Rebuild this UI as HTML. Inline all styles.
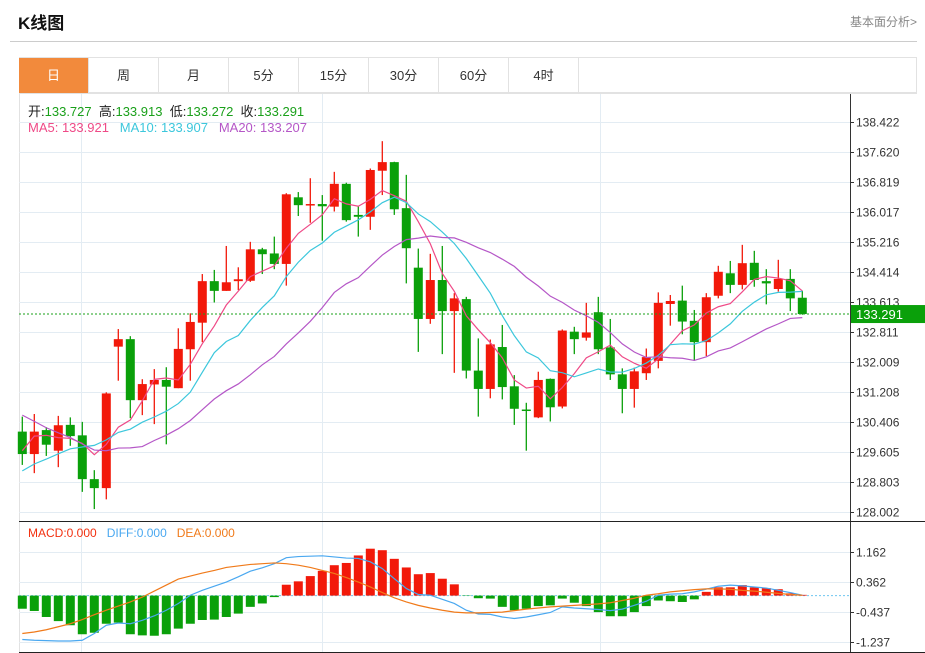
<!DOCTYPE html>
<html><head><meta charset="utf-8"><style>
body{margin:0;background:#fff;width:925px;height:653px;overflow:hidden;font-family:"Liberation Sans","Noto Sans CJK SC",sans-serif;position:relative}
.t{position:absolute;white-space:nowrap}
.tab{position:absolute;top:58px;height:35px;width:70px;line-height:35px;text-align:center;font-size:13px;color:#333;border-right:1px solid #e2e2e2;box-sizing:border-box}
</style></head><body>
<div class="t" style="left:18px;top:9px;font-size:17px;font-weight:bold;color:#111">K线图</div>
<div class="t" style="left:850px;top:13px;font-size:12px;color:#888">基本面分析&gt;</div>
<div style="position:absolute;left:10px;top:41px;width:907px;height:1px;background:#ccc"></div>
<div style="position:absolute;left:19px;top:57px;width:898px;height:36px;border:1px solid #e2e2e2;box-sizing:border-box"></div>
<div class="tab" style="left:19px;background:#f28a3c;color:#fff">日</div>
<div class="tab" style="left:89px">周</div>
<div class="tab" style="left:159px">月</div>
<div class="tab" style="left:229px">5分</div>
<div class="tab" style="left:299px">15分</div>
<div class="tab" style="left:369px">30分</div>
<div class="tab" style="left:439px">60分</div>
<div class="tab" style="left:509px">4时</div>
<svg id="chart" width="925" height="653" style="position:absolute;left:0;top:0;font-family:'Liberation Sans','Noto Sans CJK SC',sans-serif"></svg>
<script>
const opens=[130.15,129.55,130.19,129.64,130.33,130.05,128.88,128.64,132.42,132.62,130.99,131.41,131.53,131.31,132.35,133.06,134.17,133.91,134.17,134.18,135.02,134.91,134.63,136.41,136.21,136.23,136.16,136.77,135.94,135.89,137.12,137.35,136.12,134.53,133.16,134.20,133.37,133.69,131.78,131.29,132.41,131.36,130.74,130.53,131.56,130.82,132.82,132.66,133.34,132.40,131.68,131.29,131.71,132.04,133.56,133.65,133.11,132.54,133.78,134.38,134.07,134.66,134.17,133.96,134.23,133.727];
const closes=[129.55,130.15,129.80,130.32,130.03,128.88,128.64,131.17,132.62,130.99,131.42,131.53,131.35,132.36,133.08,134.17,133.91,134.14,134.22,135.02,134.89,134.63,136.49,136.20,136.23,136.17,136.77,135.80,135.89,137.14,137.35,136.09,135.05,133.16,134.20,133.37,133.71,131.78,131.29,132.48,131.34,130.76,130.70,131.53,130.80,132.85,132.62,132.80,132.35,131.68,131.29,131.76,132.14,133.59,133.64,133.09,132.54,133.74,134.42,134.07,134.65,134.20,134.11,134.23,133.71,133.291];
const highs=[130.55,130.62,130.27,130.57,130.53,130.41,129.12,131.20,132.89,132.70,131.55,131.82,131.87,132.91,133.31,134.36,134.47,135.11,134.54,135.22,135.06,135.36,136.52,136.55,136.92,136.47,137.09,136.80,136.18,137.18,137.91,137.36,137.01,135.04,134.90,135.11,133.85,133.75,132.64,132.61,133.00,131.66,130.92,131.75,131.57,132.88,132.95,133.59,133.75,133.16,131.84,131.86,132.37,133.87,133.80,134.05,133.40,133.85,134.58,134.71,135.14,134.98,134.49,134.74,134.49,133.913];
const lows=[129.26,129.04,129.50,129.20,129.77,128.54,128.08,128.34,131.51,130.51,130.59,130.35,129.81,131.31,131.51,132.54,133.60,133.91,133.93,134.15,134.36,134.49,134.05,135.91,135.73,135.25,136.03,135.76,135.36,135.54,136.47,135.94,134.11,132.28,133.03,132.22,131.72,131.57,130.55,131.04,131.01,130.33,129.64,130.51,130.42,130.77,132.22,132.58,132.22,131.53,130.64,130.79,131.53,131.84,132.98,132.75,132.04,132.17,133.71,133.85,133.95,134.02,133.55,133.89,133.37,133.272];
const priorCloses=[133.5,133.2,133.0,132.6,132.3,131.9,131.5,131.2,130.9,130.7,128.3,128.5,128.9,128.7,128.4,128.2,129.7,130.62,130.13];
const priceTicks=["138.422","137.620","136.819","136.017","135.216","134.414","133.613","132.811","132.009","131.208","130.406","129.605","128.803","128.002"];
const macdHist=[-0.35,-0.41,-0.57,-0.68,-0.79,-1.03,-0.99,-0.75,-0.72,-1.03,-1.06,-1.07,-1.03,-0.88,-0.75,-0.65,-0.64,-0.57,-0.48,-0.30,-0.21,-0.04,0.29,0.38,0.52,0.66,0.81,0.87,1.07,1.25,1.21,0.98,0.75,0.57,0.60,0.45,0.30,-0.01,-0.07,-0.08,-0.30,-0.39,-0.35,-0.28,-0.26,-0.08,-0.19,-0.28,-0.44,-0.55,-0.55,-0.44,-0.28,-0.13,-0.15,-0.17,-0.10,0.10,0.22,0.22,0.28,0.22,0.20,0.17,0.06,0.02];
const diffVals=[-1.17,-1.19,-1.20,-1.21,-1.21,-1.19,-1.01,-0.79,-0.73,-0.75,-0.66,-0.54,-0.39,-0.21,0.01,0.14,0.25,0.36,0.50,0.65,0.74,0.85,1.01,1.04,1.05,1.06,1.03,1.00,0.99,0.90,0.72,0.45,0.19,0.03,0.01,-0.10,-0.21,-0.39,-0.49,-0.50,-0.57,-0.61,-0.57,-0.51,-0.45,-0.30,-0.33,-0.35,-0.37,-0.40,-0.36,-0.26,-0.15,0.01,0.04,0.05,0.10,0.17,0.25,0.28,0.26,0.23,0.20,0.14,0.08,0.01];
const deaVals=[-1.01,-0.97,-0.91,-0.83,-0.75,-0.64,-0.51,-0.39,-0.28,-0.17,-0.04,0.12,0.28,0.44,0.52,0.60,0.67,0.75,0.79,0.83,0.85,0.87,0.85,0.81,0.75,0.67,0.59,0.48,0.36,0.23,0.08,-0.06,-0.17,-0.26,-0.33,-0.39,-0.44,-0.46,-0.46,-0.45,-0.44,-0.40,-0.36,-0.33,-0.30,-0.28,-0.26,-0.24,-0.22,-0.19,-0.13,-0.07,0.01,0.05,0.10,0.13,0.16,0.18,0.18,0.17,0.14,0.12,0.09,0.06,0.03,0.01];
const macdTicks=[1.162,0.362,-0.437,-1.237];

const svg=document.getElementById('chart');
const NS='http://www.w3.org/2000/svg';
function mk(tag,attrs,parent){const e=document.createElementNS(NS,tag);for(const k in attrs)e.setAttribute(k,attrs[k]);(parent||svg).appendChild(e);return e;}
const PMAX=138.422,PMIN=128.002,PT=122,PB=512;
const yP=p=>PB-(p-PMIN)*(PB-PT)/(PMAX-PMIN);
const xI=i=>22.3+12*i;
const MZ=595.6,MU=37.52;
const yM=v=>MZ-v*MU;
const AX=850,L=19;
let e;
e=mk('line',{x1:L+0.5,x2:L+0.5,y1:93,y2:653,stroke:'#e2e2e2'});

e=mk('line',{x1:L,x2:917,y1:93.5,y2:93.5,stroke:'#e2e2e2'});

[81,322,600].forEach(x=>{e=mk('line',{x1:x+0.5,x2:x+0.5,y1:94,y2:652,stroke:'#e3ecf3'});
});
priceTicks.forEach(t=>{const y=Math.round(yP(parseFloat(t)))+0.5;
e=mk('line',{x1:L,x2:AX,y1:y,y2:y,stroke:'#e3ecf3'});

mk('line',{x1:AX,x2:AX+4,y1:y,y2:y,stroke:'#333'});
e=mk('text',{x:AX+6,y:y+4,'font-size':12,fill:'#333'});e.textContent=t;
});
macdTicks.forEach(t=>{const y=Math.round(yM(t))+0.5;
e=mk('line',{x1:L,x2:AX,y1:y,y2:y,stroke:'#e3ecf3'});

mk('line',{x1:AX,x2:AX+4,y1:y,y2:y,stroke:'#333'});
e=mk('text',{x:AX+6,y:y+4,'font-size':12,fill:'#333'});e.textContent=t.toFixed(3);
});
e=mk('line',{x1:AX+0.5,x2:AX+0.5,y1:94,y2:653,stroke:'#333'});

e=mk('line',{x1:L,x2:925,y1:521.5,y2:521.5,stroke:'#222'});

e=mk('line',{x1:L,x2:925,y1:652.5,y2:652.5,stroke:'#222'});

const n=closes.length;
for(let i=0;i<n;i++){const up=closes[i]>=opens[i];const c=up?'#f2190a':'#0aa00a';const x=xI(i);
const g=mk('g',{});

mk('line',{x1:x,x2:x,y1:yP(highs[i]),y2:yP(lows[i]),stroke:c,'stroke-width':1.3},g);
const t=yP(Math.max(opens[i],closes[i])),b=yP(Math.min(opens[i],closes[i]));
mk('rect',{x:x-4.5,y:t,width:9,height:Math.max(1.5,b-t),fill:c},g);}
const all=priorCloses.concat(closes);const off=priorCloses.length;
function ma(k){const r=[];for(let i=0;i<n;i++){let s=0;for(let j=0;j<k;j++)s+=all[off+i-j];r.push(s/k);}return r;}
[[5,'#ef4a87','ma5-line'],[10,'#3cc7dc','ma10-line'],[20,'#b557c7','ma20-line']].forEach(([k,c,nm])=>{
const v=ma(k);e=mk('polyline',{points:v.map((p,i)=>xI(i)+','+yP(p)).join(' '),fill:'none',stroke:c,'stroke-width':1.2});
});
const lp=closes[n-1];
e=mk('line',{x1:L,x2:AX,y1:yP(lp),y2:yP(lp),stroke:'#1aa01a','stroke-dasharray':'2,2'});

e=mk('rect',{x:AX+1,y:yP(lp)-9,width:74,height:18,fill:'#0aa00a'});

e=mk('text',{x:AX+6,y:yP(lp)+5,'font-size':13,fill:'#fff'});e.textContent=lp.toFixed(3);

e=mk('line',{x1:L,x2:AX,y1:MZ,y2:MZ,stroke:'#6ec6f0','stroke-dasharray':'2,2'});

macdHist.forEach((v,i)=>{const y=yM(v);
e=mk('rect',{x:xI(i)-4.5,y:Math.min(y,MZ),width:9,height:Math.abs(MZ-y),fill:v>=0?'#f2190a':'#0aa00a'});
});
e=mk('polyline',{points:diffVals.map((v,i)=>xI(i)+','+yM(v)).join(' '),fill:'none',stroke:'#4aa8f0','stroke-width':1.2});

e=mk('polyline',{points:deaVals.map((v,i)=>xI(i)+','+yM(v)).join(' '),fill:'none',stroke:'#f07a1a','stroke-width':1.2});

</script>
<div class="t" style="left:28px;top:101px;font-size:13px;color:#222">开:<span style="color:#1aa01a">133.727</span>&nbsp;&nbsp;高:<span style="color:#1aa01a">133.913</span>&nbsp;&nbsp;低:<span style="color:#1aa01a">133.272</span>&nbsp;&nbsp;收:<span style="color:#1aa01a">133.291</span></div>
<div class="t" style="left:28px;top:120px;font-size:13px"><span style="color:#ef4a87">MA5: 133.921</span>&nbsp;&nbsp;&nbsp;<span style="color:#3cc7dc">MA10: 133.907</span>&nbsp;&nbsp;&nbsp;<span style="color:#b557c7">MA20: 133.207</span></div>
<div class="t" style="left:28px;top:526px;font-size:12px"><span style="color:#f2300f">MACD:0.000</span>&nbsp;&nbsp;&nbsp;<span style="color:#4aa8f0">DIFF:0.000</span>&nbsp;&nbsp;&nbsp;<span style="color:#f07a1a">DEA:0.000</span></div>
</body></html>
